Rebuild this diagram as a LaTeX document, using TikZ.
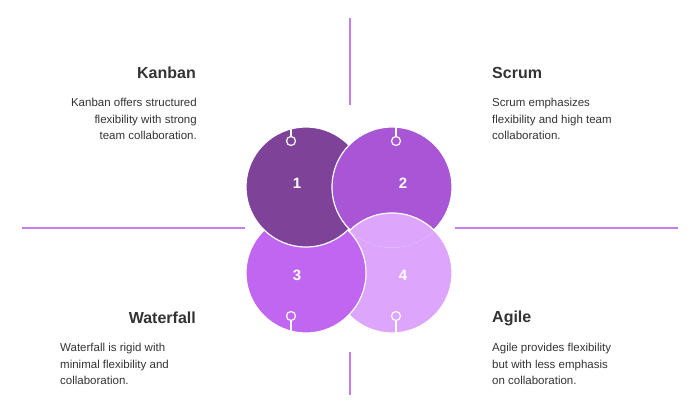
\documentclass[tikz,border=0pt]{standalone}
\usepackage{fontspec}
\setmainfont{Liberation Sans}
\usepackage{tikz}
\usetikzlibrary{arrows.meta}
\definecolor{guide}{HTML}{C77DEB}
\definecolor{cOne}{HTML}{7E4399}
\definecolor{cTwo}{HTML}{A855D6}
\definecolor{cThree}{HTML}{C066F0}
\definecolor{cFour}{HTML}{DEA5FC}
\definecolor{ink}{HTML}{333333}

\begin{document}
\begin{tikzpicture}[x=1pt,y=-1pt]
		\tikzset{
			disc/.style={draw=white,line width=1.2pt},
			title/.style={font=\bfseries\fontsize{16}{18}\selectfont,text=ink},
			body/.style={font=\fontsize{11.5}{16.5}\selectfont,text=ink,inner sep=0pt},
			num/.style={font=\bfseries\fontsize{15}{17}\selectfont,text=white}
		}
		\newcommand{\ring}[3]{
			\draw[white,line width=1.2pt] (#1,#2) ++(0,#3) -- ++(0,#3*3);
			\draw[white,line width=1.2pt] (#1,#2) circle (4.5);
		}
		\useasboundingbox (0,0) rectangle (700,400);
		% guide lines
		\draw[guide,line width=1.2pt] (350,18) -- (350,105);
		\draw[guide,line width=1.2pt] (350,352) -- (350,395);
		\draw[guide,line width=1.2pt] (22,228) -- (245,228);
		\draw[guide,line width=1.2pt] (455,228) -- (678,228);
		% circles
		\fill[cFour,disc] (392,273) circle (60);
		\fill[cThree,disc] (306,273) circle (60);
		\fill[cOne,disc] (306,187) circle (60);
		\fill[cTwo,disc] (392,187) circle (60);
		\begin{scope}
			\clip (392,187) circle (60.6);
			\fill[cFour,disc] (392,273) circle (60);
		\end{scope}
		\ring{291}{141}{-4.5}
		\ring{396}{141}{-4.5}
		\ring{291}{316}{4.5}
		\ring{396}{316}{4.5}
		\node[num] (n1) at (297,183) {1};
		\node[num] (n2) at (403,183) {2};
		\node[num] (n3) at (297,275) {3};
		\node[num] (n4) at (403,275) {4};
		% texts
		\node[title,anchor=east,inner sep=0pt] (kanban) at (196,73) {Kanban};
		\node[body,anchor=north east,align=right] (kanbanT) at (197,98) {Kanban offers structured\\flexibility with strong\\team collaboration.};
		\node[title,anchor=west,inner sep=0pt] (scrum) at (492,73) {Scrum};
		\node[body,anchor=north west,align=left] (scrumT) at (492,98) {Scrum emphasizes\\flexibility and high team\\collaboration.};
		\node[title,anchor=east,inner sep=0pt] (waterfall) at (196,318) {Waterfall};
		\node[body,anchor=north west,align=left] (waterfallT) at (60,343) {Waterfall is rigid with\\minimal flexibility and\\collaboration.};
		\node[title,anchor=west,inner sep=0pt] (agile) at (492,318) {Agile};
		\node[body,anchor=north west,align=left] (agileT) at (492,343) {Agile provides flexibility\\but with less emphasis\\on collaboration.};
	\end{tikzpicture}
\end{document}
